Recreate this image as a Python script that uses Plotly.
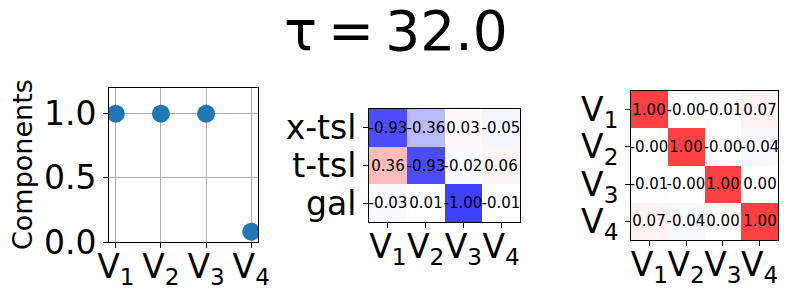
import plotly.graph_objects as go

W, H = 791, 299

# ---- data ----
title_text = "τ\u2009=\u200932.0"
v_labels = ["V<sub>1</sub>", "V<sub>2</sub>", "V<sub>3</sub>", "V<sub>4</sub>"]
components = [1.0, 1.0, 1.0, 0.08]

mid_rows = ["x-tsl", "t-tsl", "gal"]
mid_vals = [
    [-0.93, -0.36, 0.03, -0.05],
    [0.36, -0.93, -0.02, 0.06],
    [-0.03, 0.01, -1.00, -0.01],
]

right_vals = [
    [1.00, -0.001, -0.01, 0.07],
    [-0.001, 1.00, -0.001, -0.04],
    [-0.01, -0.001, 1.00, 0.001],
    [0.07, -0.04, 0.001, 1.00],
]

FONT = "DejaVu Sans"
colorscale = [[0.0, "rgb(64,64,255)"], [0.5, "rgb(255,255,255)"], [1.0, "rgb(255,64,64)"]]


def px_x(a, b):
    return [a / W, b / W]


def px_y(top, bottom):
    return [1 - bottom / H, 1 - top / H]


fig = go.Figure()

# left scatter
fig.add_trace(go.Scatter(
    x=list(range(len(components))), y=components, mode="markers",
    marker=dict(size=18, color="#1f77b4"), xaxis="x", yaxis="y", showlegend=False,
))

# middle heatmap
fig.add_trace(go.Heatmap(
    z=mid_vals, x=list(range(4)), y=list(range(len(mid_rows))), zmin=-1, zmax=1,
    colorscale=colorscale, showscale=False,
    text=[[f"{v:.2f}" for v in r] for r in mid_vals],
    texttemplate="%{text}", textfont=dict(size=15, color="black", family=FONT),
    xaxis="x2", yaxis="y2", hoverinfo="skip",
))

# right heatmap
fig.add_trace(go.Heatmap(
    z=right_vals, x=list(range(4)), y=list(range(4)), zmin=-1, zmax=1,
    colorscale=colorscale, showscale=False,
    text=[[f"{v:.2f}" for v in r] for r in right_vals],
    texttemplate="%{text}", textfont=dict(size=15, color="black", family=FONT),
    xaxis="x3", yaxis="y3", hoverinfo="skip",
))

axis_common = dict(showline=True, linecolor="black", linewidth=1, mirror=True,
                   ticks="outside", ticklen=5, tickcolor="black", tickangle=0,
                   automargin=False, tickmode="array",
                   tickfont=dict(size=33, family=FONT, color="black"), zeroline=False)

fig.update_layout(
    width=W, height=H, margin=dict(l=0, r=0, t=0, b=0, autoexpand=False),
    paper_bgcolor="white", plot_bgcolor="white",
    font=dict(family=FONT, color="black"),
    xaxis=dict(domain=px_x(109, 258), range=[-0.15, 3.15],
               tickvals=list(range(4)), ticktext=v_labels, showgrid=True,
               gridcolor="#b0b0b0", gridwidth=1, anchor="y", ticklabelstandoff=-10,
               **axis_common),
    yaxis=dict(domain=px_y(88, 242), range=[0, 1.2],
               tickvals=[0, 0.5, 1.0], ticktext=["0.0", "0.5", "1.0"], showgrid=True,
               gridcolor="#b0b0b0", gridwidth=1, anchor="x", **axis_common),
    xaxis2=dict(domain=px_x(369, 520), anchor="y2", range=[-0.5, 3.5],
                tickvals=list(range(4)), ticktext=v_labels, showgrid=False,
                ticklabelstandoff=-10, **axis_common),
    yaxis2=dict(domain=px_y(109, 222), anchor="x2", range=[2.5, -0.5],
                tickvals=list(range(len(mid_rows))), ticktext=mid_rows,
                showgrid=False, **axis_common),
    xaxis3=dict(domain=px_x(631, 778), anchor="y3", range=[-0.5, 3.5],
                tickvals=list(range(4)), ticktext=v_labels, showgrid=False,
                ticklabelstandoff=-10, **axis_common),
    yaxis3=dict(domain=px_y(91, 240), anchor="x3", range=[3.5, -0.5],
                tickvals=list(range(4)), ticktext=v_labels,
                showgrid=False, **axis_common),
    annotations=[
        dict(text=title_text, x=0.5, y=1 - 31 / H, xref="paper", yref="paper",
             xanchor="center", yanchor="middle", showarrow=False,
             font=dict(size=55, family=FONT, color="black")),
        dict(text="Components", x=22 / W, y=1 - 165 / H, xref="paper", yref="paper",
             xanchor="center", yanchor="middle", textangle=-90, showarrow=False,
             font=dict(size=27, family=FONT, color="black")),
    ],
)

fig.write_html(
    "out.html",
    config={"displayModeBar": False},
    post_script="document.body.style.margin='0';document.body.style.overflow='hidden';",
)
